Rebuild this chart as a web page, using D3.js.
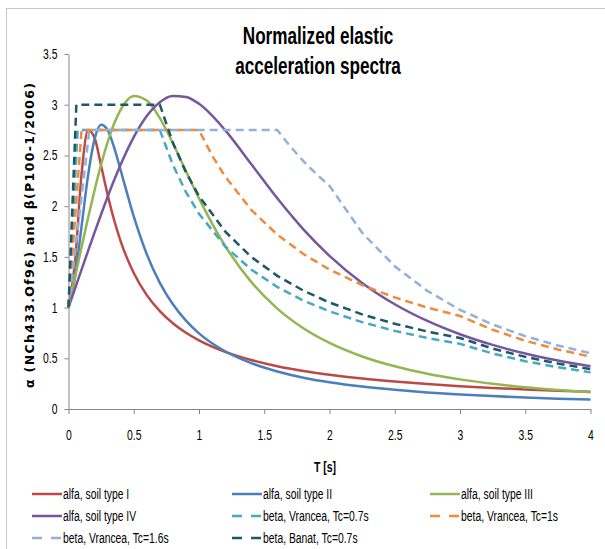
<!DOCTYPE html>
<html>
<head>
<meta charset="utf-8">
<script src="https://cdn.jsdelivr.net/npm/d3@7"></script>
<style>
	body { margin: 0; background: #fff; }
	svg text { font-family: "Liberation Sans", Arial, sans-serif; }
</style>
</head>
<body>
<script>
// Periods T [s] used for the alfa curves (NCh433)
var periods = [0, 0.05, 0.1, 0.15, 0.2, 0.25, 0.3, 0.35, 0.4, 0.5, 0.6, 0.7, 0.8, 0.9, 1.0, 1.2, 1.4, 1.6, 1.8, 2.0, 2.25, 2.5, 2.75, 3.0, 3.25, 3.5, 3.75, 4.0];

var alfaSoil1 = [1, 1.446, 2.315, 2.75, 2.671, 2.398, 2.111, 1.861, 1.653, 1.341, 1.123, 0.965, 0.845, 0.751, 0.676, 0.563, 0.483, 0.422, 0.375, 0.338, 0.300, 0.270, 0.246, 0.225, 0.208, 0.193, 0.180, 0.169];
var alfaSoil2 = [1, 1.300, 1.800, 2.303, 2.661, 2.802, 2.750, 2.578, 2.353, 1.898, 1.525, 1.244, 1.032, 0.871, 0.746, 0.569, 0.452, 0.370, 0.309, 0.264, 0.221, 0.189, 0.163, 0.143, 0.127, 0.113, 0.102, 0.093];
var alfaSoil3 = [1, 1.300, 1.596, 1.885, 2.159, 2.411, 2.632, 2.814, 2.952, 3.086, 3.042, 2.868, 2.620, 2.346, 2.077, 1.609, 1.253, 0.990, 0.796, 0.651, 0.518, 0.421, 0.348, 0.292, 0.249, 0.214, 0.187, 0.164];
var alfaSoil4 = [1, 1.187, 1.374, 1.559, 1.742, 1.920, 2.092, 2.257, 2.411, 2.681, 2.889, 3.025, 3.086, 3.077, 3.009, 2.750, 2.415, 2.077, 1.771, 1.510, 1.243, 1.033, 0.868, 0.737, 0.632, 0.547, 0.478, 0.421];

// beta curves (P100-1/2006), pairs of [T, beta]
var betaVr07 = [[0, 1], [0.07, 2.75], [0.7, 2.75], [0.8, 2.406], [0.9, 2.139], [1.0, 1.925], [1.2, 1.604], [1.4, 1.375], [1.6, 1.203], [1.8, 1.069], [2.0, 0.963], [2.25, 0.856], [2.5, 0.770], [2.75, 0.700], [3.0, 0.642], [3.25, 0.547], [3.5, 0.471], [3.75, 0.411], [4.0, 0.361]];
var betaVr10 = [[0, 1], [0.1, 2.75], [1.0, 2.75], [1.1, 2.5], [1.2, 2.292], [1.4, 1.964], [1.6, 1.719], [1.8, 1.528], [2.0, 1.375], [2.25, 1.222], [2.5, 1.1], [2.75, 1.0], [3.0, 0.917], [3.25, 0.781], [3.5, 0.673], [3.75, 0.587], [4.0, 0.516]];
var betaVr16 = [[0, 1], [0.16, 2.75], [1.6, 2.75], [1.7, 2.588], [1.8, 2.444], [1.9, 2.316], [2.0, 2.2], [2.25, 1.738], [2.5, 1.408], [2.75, 1.164], [3.0, 0.978], [3.25, 0.833], [3.5, 0.718], [3.75, 0.626], [4.0, 0.55]];
var betaBanat07 = [[0, 1], [0.06, 3], [0.7, 3], [0.8, 2.625], [0.9, 2.333], [1.0, 2.1], [1.2, 1.75], [1.4, 1.5], [1.6, 1.3125], [1.8, 1.167], [2.0, 1.05], [2.25, 0.933], [2.5, 0.84], [2.75, 0.764], [3.0, 0.7], [3.25, 0.596], [3.5, 0.514], [3.75, 0.448], [4.0, 0.394]];

var seriesNames = ["alfa, soil type I", "alfa, soil type II", "alfa, soil type III", "alfa, soil type IV",
	"beta, Vrancea, Tc=0.7s", "beta, Vrancea, Tc=1s", "beta, Vrancea, Tc=1.6s", "beta, Banat, Tc=0.7s"];
var seriesColors = ["#BB4A47", "#4A7EBD", "#93B650", "#76579E", "#46A9C4", "#EE8B3C", "#93B0D8", "#1E5866"];

var xTicks = [0, 0.5, 1, 1.5, 2, 2.5, 3, 3.5, 4];
var yTicks = [0, 0.5, 1, 1.5, 2, 2.5, 3, 3.5];

var width = 605;
var height = 549;

// squeeze a text horizontally so it looks like the narrow font of the original
function narrow(sel, factor) {
	sel.each(function() {
		var len = this.getComputedTextLength();
		d3.select(this)
			.attr("textLength", len * factor)
			.attr("lengthAdjust", "spacingAndGlyphs");
	});
}

var svg = d3.select("body")
			.append("svg")
			.attr("width", width)
			.attr("height", height);

// chart frame
svg.append("rect")
		.attr("x", 6.5)
		.attr("y", 8.5)
		.attr("width", 640)
		.attr("height", 600)
		.attr("fill", "none")
		.attr("stroke", "#c8c8c8");

var x = d3.scaleLinear().domain([0, 4]).range([68.5, 590.5]);
var y = d3.scaleLinear().domain([0, 3.5]).range([409, 54]);

// axes
svg.append("g")
		.attr("transform", "translate(0," + y(0) + ")")
		.call(d3.axisBottom(x).tickValues(xTicks).tickFormat(d3.format("")).tickSize(5).tickSizeOuter(0).tickPadding(16));
svg.append("g")
		.attr("transform", "translate(" + x(0) + ",0)")
		.call(d3.axisLeft(y).tickValues(yTicks).tickFormat(d3.format("")).tickSize(4).tickSizeOuter(0).tickPadding(7));

svg.selectAll(".domain, .tick line").attr("stroke", "#868686");
svg.selectAll(".tick text")
		.attr("fill", "#000")
		.style("font-family", "'Liberation Sans', Arial, sans-serif")
		.style("font-size", "14px")
		.call(narrow, 0.74);

// curves
var alfaLine = d3.line()
		.x(function(d, i) { return x(periods[i]); })
		.y(function(d) { return y(d); })
		.curve(d3.curveMonotoneX);
var betaLine = d3.line()
		.x(function(d) { return x(d[0]); })
		.y(function(d) { return y(d[1]); });

var alfas = [alfaSoil1, alfaSoil2, alfaSoil3, alfaSoil4];
var betas = [betaVr07, betaVr10, betaVr16, betaBanat07];

for (var i = 0; i < alfas.length; i++) {
	svg.append("path")
			.attr("d", alfaLine(alfas[i]))
			.attr("fill", "none")
			.attr("stroke", seriesColors[i])
			.attr("stroke-width", 2.5);
}
for (var j = 0; j < betas.length; j++) {
	svg.append("path")
			.attr("d", betaLine(betas[j]))
			.attr("fill", "none")
			.attr("stroke", seriesColors[4 + j])
			.attr("stroke-width", 2.5)
			.attr("stroke-dasharray", "8,5");
}

// title
svg.append("text")
		.attr("x", 318)
		.attr("y", 44)
		.attr("text-anchor", "middle")
		.style("font-size", "23px")
		.style("font-weight", "bold")
		.text("Normalized elastic")
		.call(narrow, 0.745);
svg.append("text")
		.attr("x", 318)
		.attr("y", 74)
		.attr("text-anchor", "middle")
		.style("font-size", "23px")
		.style("font-weight", "bold")
		.text("acceleration spectra")
		.call(narrow, 0.745);

// axis titles
svg.append("text")
		.attr("transform", "translate(34,235.5) rotate(-90)")
		.attr("text-anchor", "middle")
		.attr("textLength", 305)
		.attr("lengthAdjust", "spacing")
		.style("font-family", "'DejaVu Sans', Verdana, sans-serif")
		.style("font-size", "12.5px")
		.style("font-weight", "bold")
		.text("α (NCh433.Of96) and β(P100-1/2006)");
svg.append("text")
		.attr("x", 325)
		.attr("y", 472)
		.attr("text-anchor", "middle")
		.style("font-size", "14px")
		.style("font-weight", "bold")
		.text("T [s]")
		.call(narrow, 0.75);

// legend
var legendCols = [32, 232, 430];
var legendRows = [494, 516, 538];
for (var k = 0; k < seriesNames.length; k++) {
	var lx = legendCols[k % 3];
	var ly = legendRows[Math.floor(k / 3)];
	svg.append("line")
			.attr("x1", lx)
			.attr("x2", lx + 30)
			.attr("y1", ly)
			.attr("y2", ly)
			.attr("stroke", seriesColors[k])
			.attr("stroke-width", 2.5)
			.attr("stroke-dasharray", k < 4 ? null : "10,9");
	svg.append("text")
			.attr("x", lx + 31)
			.attr("y", ly + 5)
			.style("font-size", "14px")
			.text(seriesNames[k])
			.call(narrow, 0.74);
}
</script>
</body>
</html>
